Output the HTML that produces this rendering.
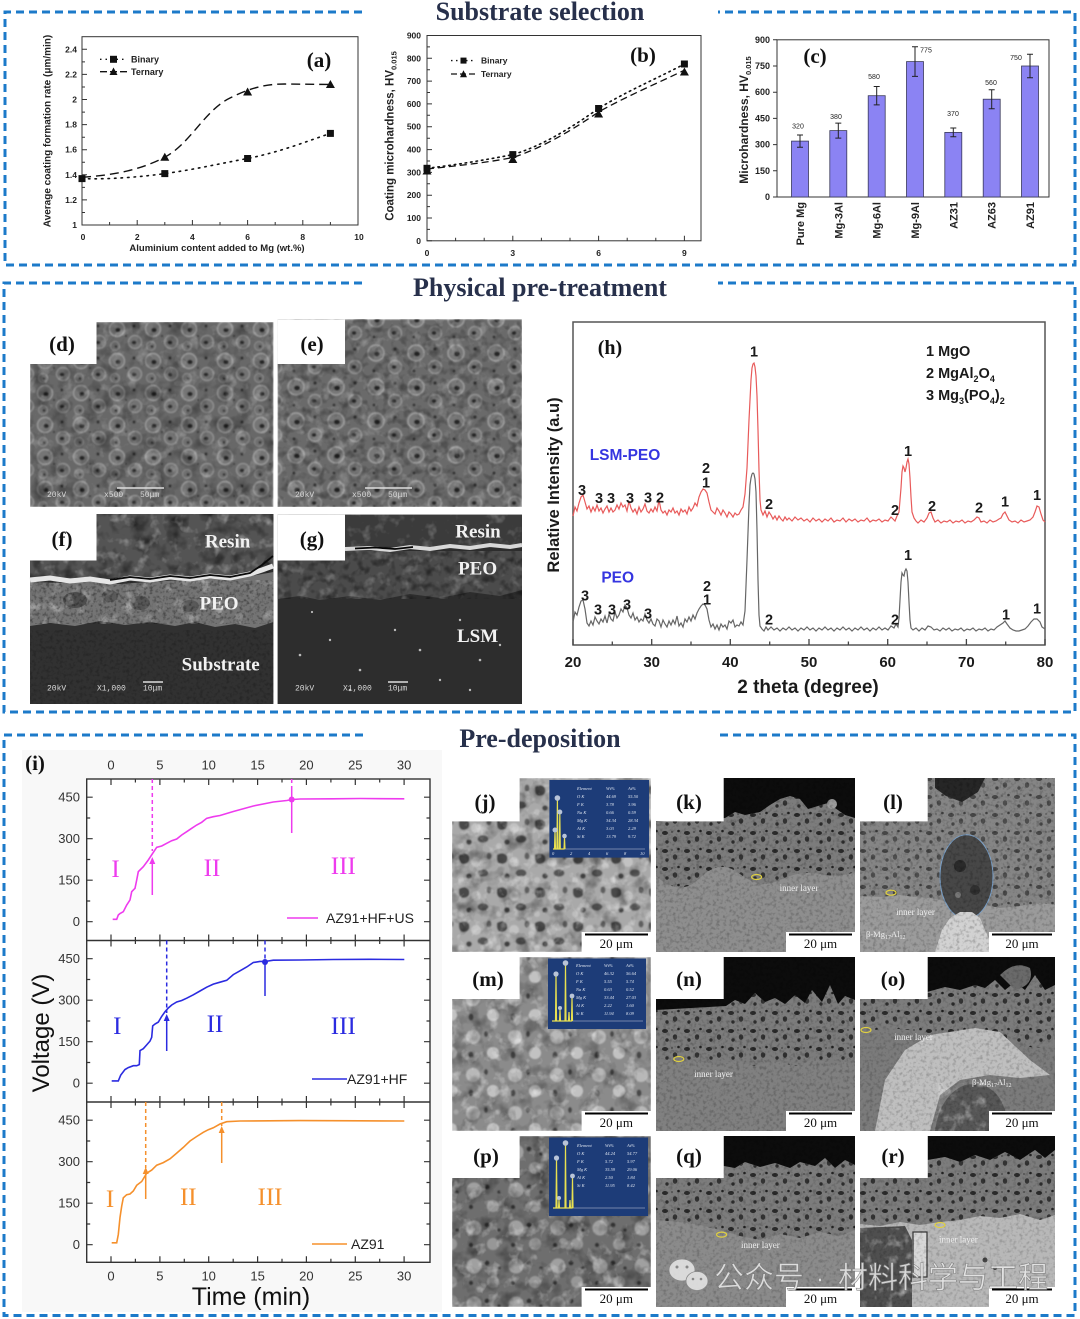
<!DOCTYPE html>
<html><head><meta charset="utf-8">
<style>
html,body{margin:0;padding:0;background:#fff;width:1080px;height:1319px;overflow:hidden}
svg{display:block}
.s{font-family:"Liberation Sans",Arial,sans-serif}
.r{font-family:"Liberation Serif","Times New Roman",serif}
.m{font-family:"Liberation Mono",monospace}
</style></head><body>
<svg xmlns="http://www.w3.org/2000/svg" width="1080" height="1319" viewBox="0 0 1080 1319">
<defs>
<filter id="nD" x="0" y="0" width="1" height="1" color-interpolation-filters="sRGB"><feTurbulence type="fractalNoise" baseFrequency="0.06" numOctaves="3" seed="4"/><feColorMatrix type="matrix" values="0 0 0 0 0 0 0 0 0 0 0 0 0 0 0 -2.4 0 0 0 1.3"/></filter>
<filter id="nD2" x="0" y="0" width="1" height="1" color-interpolation-filters="sRGB"><feTurbulence type="fractalNoise" baseFrequency="0.12" numOctaves="2" seed="11"/><feColorMatrix type="matrix" values="0 0 0 0 0 0 0 0 0 0 0 0 0 0 0 -2.6 0 0 0 1.4"/></filter>
<filter id="nL" x="0" y="0" width="1" height="1" color-interpolation-filters="sRGB"><feTurbulence type="fractalNoise" baseFrequency="0.08" numOctaves="3" seed="9"/><feColorMatrix type="matrix" values="0 0 0 0 1 0 0 0 0 1 0 0 0 0 1 2.4 0 0 0 -1.3"/></filter>
<filter id="nF" x="0" y="0" width="1" height="1" color-interpolation-filters="sRGB"><feTurbulence type="fractalNoise" baseFrequency="0.3" numOctaves="2" seed="2"/><feColorMatrix type="matrix" values="0 0 0 0 0 0 0 0 0 0 0 0 0 0 0 -3 0 0 0 1.6"/></filter>
<filter id="bl" x="0" y="0" width="1" height="1"><feGaussianBlur stdDeviation="0.9"/></filter>
<pattern id="pD" width="36" height="32" patternUnits="userSpaceOnUse">
<rect width="36" height="32" fill="#686868"/>
<circle cx="9" cy="9" r="7.5" fill="#757575" stroke="#9a9a9a" stroke-width="1.4"/>
<ellipse cx="10" cy="10" rx="2.7" ry="2.3" fill="#262626"/>
<circle cx="27" cy="22" r="6.5" fill="#727272" stroke="#939393" stroke-width="1.3"/>
<ellipse cx="26" cy="22.5" rx="2.3" ry="1.9" fill="#2a2a2a"/>
<circle cx="26" cy="6" r="1.6" fill="#333"/>
<circle cx="7" cy="26" r="4.5" fill="#707070" stroke="#8c8c8c"/>
<circle cx="8" cy="26.5" r="1.4" fill="#353535"/>
<circle cx="18" cy="16" r="1.1" fill="#3a3a3a"/>
</pattern>
<pattern id="pE" width="40" height="34" patternUnits="userSpaceOnUse" patternTransform="translate(5,3)">
<rect width="40" height="34" fill="#6b6b6b"/>
<circle cx="11" cy="10" r="8" fill="#777" stroke="#9e9e9e" stroke-width="1.4"/>
<ellipse cx="12" cy="11" rx="3" ry="2.5" fill="#262626"/>
<circle cx="30" cy="24" r="6.5" fill="#737373" stroke="#969696" stroke-width="1.3"/>
<ellipse cx="29" cy="24" rx="2.4" ry="2" fill="#2a2a2a"/>
<circle cx="30" cy="6" r="1.8" fill="#333"/>
<circle cx="9" cy="28" r="1.5" fill="#353535"/>
</pattern>
<pattern id="pC" width="22" height="18" patternUnits="userSpaceOnUse">
<rect width="22" height="18" fill="#7c7c7c"/>
<ellipse cx="5" cy="5" rx="3" ry="2" fill="#2a2a2a"/>
<ellipse cx="15" cy="11" rx="2.2" ry="2.8" fill="#333"/>
<circle cx="18.5" cy="3" r="1.3" fill="#222"/>
<circle cx="7" cy="14" r="1.7" fill="#2e2e2e"/>
<circle cx="12" cy="4" r="0.9" fill="#444"/>
</pattern>
<pattern id="pJ" width="38" height="34" patternUnits="userSpaceOnUse">
<rect width="38" height="34" fill="#a9a9a9"/>
<circle cx="20" cy="12" r="5" fill="#c2c2c2"/>
<path d="M3 5q6-4 10 1q2 7-5 8q-6 0-5-9z" fill="#4a4a4a"/>
<ellipse cx="27" cy="23" rx="5.5" ry="3.8" fill="#555"/>
<circle cx="13" cy="26" r="2.8" fill="#444"/>
<ellipse cx="33" cy="6" rx="2.5" ry="3.5" fill="#5e5e5e"/>
<circle cx="5" cy="30" r="3" fill="#bdbdbd"/>
</pattern>
<pattern id="pM" width="42" height="38" patternUnits="userSpaceOnUse">
<rect width="42" height="38" fill="#8b8b8b"/>
<circle cx="11" cy="11" r="7" fill="#b8b8b8"/>
<circle cx="31" cy="27" r="6" fill="#c2c2c2"/>
<ellipse cx="24" cy="8" rx="2" ry="3" fill="#474747"/>
<ellipse cx="9" cy="29" rx="2.5" ry="3.5" fill="#4a4a4a"/>
<circle cx="36" cy="10" r="2.5" fill="#a5a5a5"/>
</pattern>
<pattern id="pP" width="42" height="38" patternUnits="userSpaceOnUse">
<rect width="42" height="38" fill="#6e6e6e"/>
<circle cx="12" cy="12" r="7.5" fill="#a0a0a0"/>
<circle cx="31" cy="28" r="6" fill="#979797"/>
<circle cx="25" cy="9" r="2.5" fill="#303030"/>
<circle cx="9" cy="29" r="2.2" fill="#333"/>
<circle cx="37" cy="14" r="1.8" fill="#383838"/>
</pattern>
</defs>

<!-- ============ SECTION BORDERS & TITLES ============ -->
<g fill="none" stroke="#1c7ac9" stroke-width="3" stroke-dasharray="8 5">
<path d="M362 12H5V265H1075V12H718"/>
<path d="M362 283H4V712H1075V283H718"/>
<path d="M363 735H4V1315.5H1075V735H717"/>
</g>
<g class="r" font-size="26" font-weight="bold" fill="#27304b" text-anchor="middle">
<text x="540" y="20">Substrate selection</text>
<text x="540" y="296">Physical pre-treatment</text>
<text x="540" y="747">Pre-deposition</text>
</g>

<!-- ============ (a) ============ -->
<g class="s" font-weight="bold" fill="#222">
<rect x="82" y="36.7" width="276" height="188.3" fill="none" stroke="#333" stroke-width="1"/>
<path d="M82 225h5M82 199.9h5M82 174.8h5M82 149.7h5M82 124.6h5M82 99.5h5M82 74.4h5M82 49.3h5M82 212.5h3M82 187.4h3M82 162.3h3M82 137.2h3M82 112.1h3M82 87h3M82 61.9h3M82 225v-5M137.2 225v-5M192.4 225v-5M247.6 225v-5M302.8 225v-5M109.6 225v-3M164.8 225v-3M220 225v-3M275.2 225v-3M330.4 225v-3" stroke="#333" stroke-width="1"/>
<g font-size="8.5" text-anchor="end">
<text x="77" y="228">1</text><text x="77" y="202.9">1.2</text><text x="77" y="177.8">1.4</text><text x="77" y="152.7">1.6</text><text x="77" y="127.6">1.8</text><text x="77" y="102.5">2</text><text x="77" y="77.4">2.2</text><text x="77" y="52.3">2.4</text>
</g>
<g font-size="8.5" text-anchor="middle">
<text x="83" y="240">0</text><text x="137.2" y="240">2</text><text x="192.4" y="240">4</text><text x="247.6" y="240">6</text><text x="302.8" y="240">8</text><text x="359" y="240">10</text>
</g>
<text x="217" y="251" font-size="9.5" text-anchor="middle">Aluminium content added to Mg (wt.%)</text>
<text transform="translate(50.5,131) rotate(-90)" font-size="10" text-anchor="middle">Average coating formation rate (μm/min)</text>
<path d="M82,178.6 C110,179.5 140,177 164.8,173.6 C195,169.5 220,163.5 247.6,158.5 C280,152 305,142 330.4,133.4" fill="none" stroke="#111" stroke-width="1.6" stroke-dasharray="1.5 5" stroke-linecap="round"/>
<path d="M82,177.3 C115,175 140,170 164.8,157.2 C190,144 205,110 230,98 C250,88 265,84 285,84 L330.4,84.5" fill="none" stroke="#111" stroke-width="1.4" stroke-dasharray="9 5"/>
<g fill="#111">
<path d="M164.8 152.7l-4.5 8h9z M247.6 87.5l-4.5 8h9z M330.4 80l-4.5 8h9z"/>
<rect x="78.5" y="175.1" width="7" height="7"/><rect x="161.3" y="170.1" width="7" height="7"/><rect x="244.1" y="155" width="7" height="7"/><rect x="326.9" y="129.9" width="7" height="7"/>
<path d="M100 59.3H127" stroke="#111" stroke-width="1.4" stroke-dasharray="1.5 4"/>
<rect x="110" y="55.8" width="7" height="7"/>
<path d="M100 71.7H127" stroke="#111" stroke-width="1.3" stroke-dasharray="7 3"/>
<path d="M113.5 67.5l-4 7.5h8z"/>
</g>
<text x="131" y="62.5" font-size="9">Binary</text>
<text x="131" y="75" font-size="9">Ternary</text>
</g>
<text x="319" y="67" class="r" font-size="21" font-weight="bold" text-anchor="middle" fill="#111">(a)</text>

<!-- ============ (b) ============ -->
<g class="s" font-weight="bold" fill="#222">
<rect x="427" y="35.5" width="274" height="205.3" fill="none" stroke="#333" stroke-width="1"/>
<path d="M427 240.8h5M427 218h5M427 195.2h5M427 172.4h5M427 149.6h5M427 126.7h5M427 103.9h5M427 81.1h5M427 58.3h5M427 229.4h3M427 206.6h3M427 183.8h3M427 161h3M427 138.2h3M427 115.3h3M427 92.5h3M427 69.7h3M427 46.9h3M512.8 240.8v-5M598.6 240.8v-5M684.4 240.8v-5M455.6 240.8v-3M484.2 240.8v-3M541.4 240.8v-3M570 240.8v-3M627.2 240.8v-3M655.8 240.8v-3" stroke="#333" stroke-width="1"/>
<g font-size="8.5" text-anchor="end">
<text x="421" y="243.8">0</text><text x="421" y="221">100</text><text x="421" y="198.2">200</text><text x="421" y="175.4">300</text><text x="421" y="152.6">400</text><text x="421" y="129.7">500</text><text x="421" y="106.9">600</text><text x="421" y="84.1">700</text><text x="421" y="61.3">800</text><text x="421" y="38.5">900</text>
</g>
<g font-size="8.5" text-anchor="middle">
<text x="427" y="256">0</text><text x="512.8" y="256">3</text><text x="598.6" y="256">6</text><text x="684.4" y="256">9</text>
</g>
<text transform="translate(393.5,136) rotate(-90)" font-size="11.5" text-anchor="middle">Coating microhardness, HV<tspan font-size="7.5" dy="3">0.015</tspan></text>
<path d="M427,168.3 C455,165 485,160 512.8,154.6 C545,145 575,125 598.6,108.5 C625,92 660,77 684.4,64" fill="none" stroke="#111" stroke-width="1.6" stroke-dasharray="1.5 4" stroke-linecap="round"/>
<path d="M427,169 C455,166 485,163 512.8,157.5 C545,147 575,128 598.6,112 C625,97 660,82 684.4,70.2" fill="none" stroke="#111" stroke-width="1.3" stroke-dasharray="7 4"/>
<g fill="#111">
<path d="M512.8 155l-4.5 8h9z M598.6 109.5l-4.5 8h9z M684.4 67.5l-4.5 8h9z M427 166.5l-4.5 8h9z"/>
<rect x="423.5" y="164.8" width="7" height="7"/><rect x="509.3" y="151.1" width="7" height="7"/><rect x="595.1" y="105" width="7" height="7"/><rect x="680.9" y="60.5" width="7" height="7"/>
<path d="M451 60.6H476" stroke="#111" stroke-width="1.4" stroke-dasharray="1.5 3.5"/>
<rect x="460.5" y="57.6" width="6" height="6"/>
<path d="M451 74H476" stroke="#111" stroke-width="1.2" stroke-dasharray="6 3"/>
<path d="M463.5 70.3l-3.5 7h7z"/>
</g>
<text x="481" y="63.5" font-size="8.5">Binary</text>
<text x="481" y="77" font-size="8.5">Ternary</text>
</g>
<text x="643" y="62" class="r" font-size="21" font-weight="bold" text-anchor="middle" fill="#111">(b)</text>

<!-- ============ (c) ============ -->
<g class="s" fill="#222">
<rect x="777" y="39.8" width="272" height="157.2" fill="none" stroke="#333" stroke-width="1"/>
<path d="M777 197h-4M777 170.8h-4M777 144.6h-4M777 118.4h-4M777 92.2h-4M777 66h-4M777 39.8h-4" stroke="#333" stroke-width="1"/>
<g font-size="9" font-weight="bold" text-anchor="end">
<text x="770" y="200">0</text><text x="770" y="173.8">150</text><text x="770" y="147.6">300</text><text x="770" y="121.4">450</text><text x="770" y="95.2">600</text><text x="770" y="69">750</text><text x="770" y="42.8">900</text>
</g>
<g fill="#8b83f3" stroke="#3a3a5a" stroke-width="0.8">
<rect x="791.5" y="141.1" width="17" height="55.9"/>
<rect x="829.8" y="130.6" width="17" height="66.4"/>
<rect x="868.2" y="95.7" width="17" height="101.3"/>
<rect x="906.5" y="61.6" width="17" height="135.4"/>
<rect x="944.8" y="132.4" width="17" height="64.6"/>
<rect x="983.2" y="99.2" width="17" height="97.8"/>
<rect x="1021.5" y="66" width="17" height="131"/>
</g>
<path d="M800 135v12.2M797 135h6M797 147.2h6 M838.3 123.1v15M835.3 123.1h6M835.3 138.1h6 M876.7 86.5v18.4M873.7 86.5h6M873.7 104.9h6 M915 46.8v29.6M912 46.8h6M912 76.4h6 M953.3 128v8.8M950.3 128h6M950.3 136.8h6 M991.7 89.7v19M988.7 89.7h6M988.7 108.7h6 M1030 54.3v23.4M1027 54.3h6M1027 77.7h6" stroke="#222" stroke-width="1"/>
<g font-size="7" text-anchor="middle">
<text x="798" y="128.5">320</text><text x="836" y="119">380</text><text x="874" y="79">580</text><text x="926" y="52.5">775</text><text x="953" y="116">370</text><text x="991" y="85">560</text><text x="1016" y="60">750</text>
</g>
<g font-size="11" font-weight="bold" text-anchor="end">
<text transform="translate(804,202) rotate(-90)">Pure Mg</text>
<text transform="translate(842.3,202) rotate(-90)">Mg-3Al</text>
<text transform="translate(880.7,202) rotate(-90)">Mg-6Al</text>
<text transform="translate(919,202) rotate(-90)">Mg-9Al</text>
<text transform="translate(957.3,202) rotate(-90)">AZ31</text>
<text transform="translate(995.7,202) rotate(-90)">AZ63</text>
<text transform="translate(1034,202) rotate(-90)">AZ91</text>
</g>
<text transform="translate(748,120) rotate(-90)" font-size="12" font-weight="bold" text-anchor="middle">Microhardness, HV<tspan font-size="7.5" dy="3">0.015</tspan></text>
</g>
<text x="815" y="63" class="r" font-size="21" font-weight="bold" text-anchor="middle" fill="#111">(c)</text>

<!-- ============ (d) ============ -->
<rect x="30" y="322" width="243.4" height="185" fill="url(#pD)" filter="url(#bl)"/>
<rect x="30" y="322" width="243.4" height="185" filter="url(#nD)" opacity="0.35"/>
<rect x="30" y="322" width="243.4" height="185" filter="url(#nL)" opacity="0.3"/>
<rect x="30" y="322" width="66.5" height="42" fill="#fff"/>
<g class="m" font-size="8" fill="#d8d8d8">
<text x="47" y="497">20kV</text><text x="104" y="497">x500</text><text x="140" y="497">50μm</text>
</g>
<path d="M117 488H164" stroke="#ddd" stroke-width="1.5"/>

<!-- ============ (e) ============ -->
<rect x="277.6" y="319.4" width="244.4" height="187.6" fill="url(#pE)" filter="url(#bl)"/>
<rect x="277.6" y="319.4" width="244.4" height="187.6" filter="url(#nD2)" opacity="0.3"/>
<rect x="277.6" y="319.4" width="244.4" height="187.6" filter="url(#nL)" opacity="0.3"/>
<rect x="277.6" y="319.4" width="67.4" height="44.6" fill="#fff"/>
<g class="m" font-size="8" fill="#d8d8d8">
<text x="295" y="497">20kV</text><text x="352" y="497">x500</text><text x="388" y="497">50μm</text>
</g>
<path d="M365 488H412" stroke="#ddd" stroke-width="1.5"/>

<!-- ============ (f) ============ -->
<rect x="30" y="514" width="243.4" height="190" fill="#313131"/>
<path d="M30,514 H273.4 V566 L265,560 L255,572 L240,574 L220,576 L200,575 L180,577 L160,576 L140,578 L120,577 L100,579 L80,578 L60,580 L40,577 L30,578 Z" fill="#545454"/>
<rect x="30" y="514" width="243.4" height="64" filter="url(#nD)" opacity="0.6"/>
<rect x="30" y="514" width="243.4" height="64" filter="url(#nL)" opacity="0.45"/>
<path d="M30,582 L60,583 L90,581 L120,584 L150,582 L180,580 L210,579 L240,578 L273.4,572 V622 L255,628 L235,624 L215,627 L195,622 L175,626 L150,622 L125,625 L100,621 L75,626 L50,623 L30,626 Z" fill="#747474"/>
<ellipse cx="75" cy="600" rx="12" ry="8" fill="#4e4e4e"/><ellipse cx="140" cy="603" rx="10" ry="7" fill="#555"/><ellipse cx="110" cy="596" rx="8" ry="6" fill="#5a5a5a"/><ellipse cx="190" cy="606" rx="9" ry="6" fill="#5a5a5a"/>
<rect x="30" y="580" width="243.4" height="44" filter="url(#nL)" opacity="0.45"/>
<rect x="30" y="580" width="243.4" height="44" filter="url(#nF)" opacity="0.35"/>
<path d="M30,580 L50,578 L70,581 L90,579 L110,582 L130,578 L150,580 L170,577 L190,579 L210,576 L230,578 L250,574 L262,570 L273,566" stroke="#e6e6e6" stroke-width="5" fill="none"/>
<path d="M110,580 L130,577 L150,579 L170,576 L190,578 L210,575 L230,577 L250,573 L262,565 L273,556" stroke="#0a0a0a" stroke-width="1.8" fill="none"/>
<rect x="30" y="630" width="243.4" height="74" filter="url(#nF)" opacity="0.2"/>
<rect x="30" y="514" width="66.5" height="46.5" fill="#fff"/>
<g class="r" font-size="19" font-weight="bold" fill="#f2f2f2" text-anchor="middle">
<text x="227.6" y="547.5">Resin</text><text x="219" y="609.5">PEO</text><text x="220.7" y="670.5">Substrate</text>
</g>
<g class="m" font-size="8" fill="#d8d8d8">
<text x="47" y="690.5">20kV</text><text x="97" y="690.5">X1,000</text><text x="143" y="690.5">10μm</text>
</g>
<path d="M143 682H163" stroke="#ddd" stroke-width="1.5"/>

<!-- ============ (g) ============ -->
<rect x="277.6" y="514.7" width="244.4" height="189.3" fill="#2d2d2d"/>
<rect x="277.6" y="514.7" width="244.4" height="32" fill="#3b3b3b"/>
<rect x="277.6" y="514.7" width="244.4" height="32" filter="url(#nL)" opacity="0.3"/>
<path d="M277.6,551 H522 V590 L500,596 L470,592 L440,598 L410,594 L380,600 L350,596 L320,600 L300,596 L277.6,599 Z" fill="#4b4b4b"/>
<rect x="277.6" y="551" width="244.4" height="48" filter="url(#nD2)" opacity="0.45"/>
<rect x="277.6" y="551" width="244.4" height="48" filter="url(#nL)" opacity="0.3"/>
<path d="M345,549 L370,548 L390,550 L410,547 L430,549 L450,546 L470,548 L490,545 L510,547 L522,545" stroke="#d8d8d8" stroke-width="4" fill="none"/>
<path d="M355,548.5 L375,547.5 L395,549 L413,547" stroke="#050505" stroke-width="1.8" fill="none"/>
<g fill="#bbb"><circle cx="300" cy="655" r="1.3"/><circle cx="330" cy="640" r="1.2"/><circle cx="360" cy="670" r="1.3"/><circle cx="395" cy="630" r="1.2"/><circle cx="420" cy="650" r="1.3"/><circle cx="440" cy="680" r="1.2"/><circle cx="460" cy="620" r="1.2"/><circle cx="480" cy="660" r="1.3"/><circle cx="500" cy="645" r="1.2"/><circle cx="350" cy="690" r="1.2"/><circle cx="470" cy="690" r="1.2"/><circle cx="312" cy="612" r="1.1"/></g>
<rect x="277.6" y="514.7" width="67.4" height="45.8" fill="#fff"/>
<g class="r" font-size="19" font-weight="bold" fill="#f2f2f2" text-anchor="middle">
<text x="478" y="537.5">Resin</text><text x="477.6" y="574.5">PEO</text><text x="477.6" y="642">LSM</text>
</g>
<g class="m" font-size="8" fill="#d8d8d8">
<text x="295" y="690.5">20kV</text><text x="343" y="690.5">X1,000</text><text x="388" y="690.5">10μm</text>
</g>
<path d="M388 682H408" stroke="#ddd" stroke-width="1.5"/>

<g class="r" font-size="21" font-weight="bold" fill="#111" text-anchor="middle">
<text x="62" y="351">(d)</text><text x="312" y="351">(e)</text><text x="62" y="546">(f)</text><text x="312" y="546">(g)</text>
</g>

<!-- ============ (h) XRD ============ -->
<rect x="573" y="322" width="472" height="323" fill="none" stroke="#555" stroke-width="1.5"/>
<path d="M573 645v-6M651.7 645v-6M730.3 645v-6M809 645v-6M887.7 645v-6M966.4 645v-6M1045 645v-6M612.3 645v-3.5M691 645v-3.5M769.7 645v-3.5M848.4 645v-3.5M927 645v-3.5M1005.7 645v-3.5" stroke="#444" stroke-width="1.3"/>
<polyline fill="none" stroke="#e85a5a" stroke-width="1.2" points="573,516 575,507 577,511 579,503 581,497 583,495 585,502 587,509 589,506 591,512 593,507 595,511 597,505 599,511 601,508 603,513 605,509 607,506 609,512 611,508 613,512 615,510 617,505 619,509 621,503 623,507 625,505 627,511 629,501 631,508 633,512 635,509 637,514 639,507 641,512 643,509 645,504 647,511 649,513 651,509 653,512 655,507 657,511 659,500 661,510 663,513 665,511 667,515 669,510 671,512 673,508 675,513 677,511 679,515 681,509 683,512 685,510 687,514 689,507 691,511 693,508 695,503 697,506 699,497 701,492 703,489 705,490 707,493 709,502 711,510 713,512 715,514 717,508 719,511 721,515 723,510 725,513 727,517 729,512 731,514 733,517 735,513 737,515 739,514 741,510 743,507 745,494 747,468 749,420 751,380 752,368 753,364 754,363 755,367 756,376 757,396 758,430 759,470 760,500 761,510 763,515 765,511 767,517 769,512 771,515 773,519 775,516 777,520 779,516 781,519 783,521 785,517 787,520 789,518 792,521 795,517 798,520 801,518 804,521 807,519 810,522 813,518 816,521 819,519 822,522 825,519 828,521 831,518 834,522 837,520 840,521 843,518 846,522 849,519 852,521 855,519 858,522 861,520 864,521 867,518 870,522 873,520 876,521 879,519 882,522 885,520 888,521 891,517 893,519 895,521 897,516 899,512 900,500 901,488 902,472 903,466 904,468 905,472 906,468 907,462 908,459 909,464 910,478 911,497 912,512 914,518 916,521 918,523 921,520 924,522 927,518 929,513 931,512 933,518 935,522 938,520 941,523 944,521 947,522 950,520 953,523 956,521 959,522 962,520 965,523 968,521 971,522 974,520 977,517 979,518 981,522 984,521 987,523 990,520 993,522 996,521 999,519 1001,518 1003,514 1005,512 1007,516 1009,520 1012,522 1015,521 1018,523 1021,520 1024,522 1027,521 1030,520 1033,517 1035,512 1037,506 1039,507 1041,514 1043,520 1045,522"/>
<polyline fill="none" stroke="#666" stroke-width="1.2" points="573,622 575,612 577,615 579,607 581,601 583,600 585,609 587,623 589,626 591,621 593,625 595,617 597,621 599,624 601,619 603,622 605,616 607,623 609,614 611,619 613,621 615,612 617,618 619,615 621,609 623,612 625,605 627,608 629,615 631,618 633,613 635,620 637,617 639,622 641,619 643,621 645,614 647,620 649,623 651,619 653,624 655,626 657,619 659,621 661,627 663,620 665,624 667,627 669,621 671,625 673,620 675,624 677,616 679,626 681,623 683,627 685,619 687,622 689,617 691,621 693,615 695,619 697,613 699,609 701,606 703,604 705,605 707,609 709,620 711,627 713,624 715,629 717,625 719,630 721,624 723,627 725,625 727,629 729,621 731,623 733,620 735,627 737,625 739,626 741,622 743,625 745,611 747,560 749,505 750,485 751,478 752,474 753,473 754,474 755,479 756,492 757,530 758,580 759,615 760,626 762,629 764,631 766,627 768,630 771,627 774,630 777,628 780,631 783,628 786,630 789,627 792,630 795,628 798,631 801,628 804,630 807,627 810,630 813,628 816,631 819,628 822,630 825,627 828,630 831,628 834,631 837,628 840,630 843,627 846,630 849,628 852,631 855,628 858,630 861,627 864,630 867,628 870,631 873,628 876,630 879,627 882,630 885,628 888,630 891,626 894,628 896,624 898,627 899,618 900,600 901,582 902,573 903,575 904,576 905,571 906,569 907,571 908,582 909,602 910,620 911,628 913,630 916,628 919,631 922,628 925,630 928,626 931,627 934,630 937,629 940,631 943,628 946,630 949,628 952,631 955,629 958,630 961,628 964,631 967,629 970,630 973,628 976,631 979,629 982,630 985,628 988,631 991,629 994,630 997,627 1000,625 1003,623 1005,621 1007,624 1010,628 1013,630 1016,631 1019,631 1022,630 1025,629 1028,626 1031,622 1034,619 1037,619 1040,622 1042,627 1045,629"/>
<g class="s" font-size="14.5" font-weight="bold" fill="#1a1a1a" text-anchor="middle">
<text x="582" y="495">3</text><text x="599" y="503">3</text><text x="611" y="503">3</text><text x="630" y="503">3</text><text x="648" y="502.5">3</text><text x="660" y="502.5">2</text><text x="706" y="473">2</text><text x="706" y="487.5">1</text><text x="754" y="356.5">1</text><text x="769" y="509">2</text><text x="895" y="515">2</text><text x="908" y="456">1</text><text x="932" y="511">2</text><text x="979" y="512.5">2</text><text x="1005" y="506.5">1</text><text x="1037" y="500">1</text>
<text x="585" y="600.5">3</text><text x="598" y="614.5">3</text><text x="612" y="614.5">3</text><text x="627" y="609.5">3</text><text x="648" y="618.5">3</text><text x="707" y="591">2</text><text x="707" y="604.5">1</text><text x="769" y="624.5">2</text><text x="895" y="624.5">2</text><text x="908" y="560">1</text><text x="1006" y="619.5">1</text><text x="1037" y="613.5">1</text>
</g>
<g class="s" font-size="14.5" font-weight="bold" fill="#1a1a1a">
<text x="926" y="356">1 MgO</text>
<text x="926" y="378">2 MgAl<tspan font-size="9" dy="4">2</tspan><tspan dy="-4">O</tspan><tspan font-size="9" dy="4">4</tspan></text>
<text x="926" y="400">3 Mg<tspan font-size="9" dy="4">3</tspan><tspan dy="-4">(PO</tspan><tspan font-size="9" dy="4">4</tspan><tspan dy="-4">)</tspan><tspan font-size="9" dy="4">2</tspan></text>
</g>
<g class="s" font-size="15.5" font-weight="bold" fill="#3535e0" text-anchor="middle">
<text x="625" y="460">LSM-PEO</text><text x="617.7" y="582.5">PEO</text>
</g>
<g class="s" font-size="15" font-weight="bold" fill="#1a1a1a" text-anchor="middle">
<text x="573" y="667">20</text><text x="651.7" y="667">30</text><text x="730.3" y="667">40</text><text x="809" y="667">50</text><text x="887.7" y="667">60</text><text x="966.4" y="667">70</text><text x="1045" y="667">80</text>
</g>
<text x="808" y="693" class="s" font-size="19" font-weight="bold" text-anchor="middle" fill="#1a1a1a">2 theta (degree)</text>
<text transform="translate(559,485) rotate(-90)" class="s" font-size="16.5" font-weight="bold" text-anchor="middle" fill="#1a1a1a">Relative Intensity (a.u)</text>
<text x="610" y="354" class="r" font-size="20" font-weight="bold" text-anchor="middle" fill="#111">(h)</text>

<!-- ============ (i) ============ -->
<rect x="22" y="750" width="420" height="562" fill="#f8f8f8"/>
<rect x="86.7" y="779" width="343.3" height="483.3" fill="#fff" stroke="#333" stroke-width="1.4"/>
<path d="M86.7 940.5H430M86.7 1102H430" stroke="#333" stroke-width="1.4"/>
<path stroke="#333" stroke-width="1.2" d="M86.7 921.7h6M86.7 880.2h6M86.7 838.7h6M86.7 797.2h6M86.7 1083.2h6M86.7 1041.7h6M86.7 1000.2h6M86.7 958.7h6M86.7 1244.7h6M86.7 1203.2h6M86.7 1161.7h6M86.7 1120.2h6
M430 921.7h-6M430 880.2h-6M430 838.7h-6M430 797.2h-6M430 1083.2h-6M430 1041.7h-6M430 1000.2h-6M430 958.7h-6M430 1244.7h-6M430 1203.2h-6M430 1161.7h-6M430 1120.2h-6
M86.7 901h3.5M86.7 859.5h3.5M86.7 818h3.5M86.7 1062.5h3.5M86.7 1021h3.5M86.7 979.5h3.5M86.7 1224h3.5M86.7 1182.5h3.5M86.7 1141h3.5
M430 901h-3.5M430 859.5h-3.5M430 818h-3.5M430 1062.5h-3.5M430 1021h-3.5M430 979.5h-3.5M430 1224h-3.5M430 1182.5h-3.5M430 1141h-3.5
M111 779v6M159.9 779v6M208.7 779v6M257.6 779v6M306.4 779v6M355.3 779v6M404.1 779v6M135.4 779v3.5M184.3 779v3.5M233.2 779v3.5M282 779v3.5M330.9 779v3.5M379.7 779v3.5
M111 934.5v12M159.9 934.5v12M208.7 934.5v12M257.6 934.5v12M306.4 934.5v12M355.3 934.5v12M404.1 934.5v12M135.4 937v7M184.3 937v7M233.2 937v7M282 937v7M330.9 937v7M379.7 937v7
M111 1096v12M159.9 1096v12M208.7 1096v12M257.6 1096v12M306.4 1096v12M355.3 1096v12M404.1 1096v12M135.4 1098.5v7M184.3 1098.5v7M233.2 1098.5v7M282 1098.5v7M330.9 1098.5v7M379.7 1098.5v7
M111 1262.3v-6M159.9 1262.3v-6M208.7 1262.3v-6M257.6 1262.3v-6M306.4 1262.3v-6M355.3 1262.3v-6M404.1 1262.3v-6M135.4 1262.3v-3.5M184.3 1262.3v-3.5M233.2 1262.3v-3.5M282 1262.3v-3.5M330.9 1262.3v-3.5M379.7 1262.3v-3.5"/>
<g class="s" font-size="13" fill="#333" text-anchor="end">
<text x="80" y="926.2">0</text><text x="80" y="884.7">150</text><text x="80" y="843.2">300</text><text x="80" y="801.7">450</text>
<text x="80" y="1087.7">0</text><text x="80" y="1046.2">150</text><text x="80" y="1004.7">300</text><text x="80" y="963.2">450</text>
<text x="80" y="1249.2">0</text><text x="80" y="1207.7">150</text><text x="80" y="1166.2">300</text><text x="80" y="1124.7">450</text>
</g>
<g class="s" font-size="13" fill="#333" text-anchor="middle">
<text x="111" y="769.5">0</text><text x="159.9" y="769.5">5</text><text x="208.7" y="769.5">10</text><text x="257.6" y="769.5">15</text><text x="306.4" y="769.5">20</text><text x="355.3" y="769.5">25</text><text x="404.1" y="769.5">30</text>
<text x="111" y="1280.5">0</text><text x="159.9" y="1280.5">5</text><text x="208.7" y="1280.5">10</text><text x="257.6" y="1280.5">15</text><text x="306.4" y="1280.5">20</text><text x="355.3" y="1280.5">25</text><text x="404.1" y="1280.5">30</text>
</g>
<text x="251" y="1305" class="s" font-size="25" text-anchor="middle" fill="#111">Time (min)</text>
<text transform="translate(49,1033) rotate(-90)" class="s" font-size="24" text-anchor="middle" fill="#111">Voltage (V)</text>
<text x="35" y="770" class="r" font-size="21" font-weight="bold" text-anchor="middle" fill="#111">(i)</text>

<!-- magenta -->
<g stroke="#ee3bee" fill="none" stroke-width="1.6">
<polyline points="112.7,919.3 116.7,919.3 118.3,915 120,913.5 123.3,911.7 126.7,905 130,900 131.7,891.7 135,888.3 136.7,880 138.3,871.7 143.3,866.7 148.3,860 152.7,853.3 156.7,847.3 161.7,846 166.7,843.3 171.7,840.7 176.7,839 181.7,835 186.7,831.7 191.7,828.3 196.7,825 201.7,822.3 206.7,818.3 213.3,816.7 220,815.5 233.3,811.5 253.3,806 273.3,802 286.7,800.5 292.7,799.5 300,799 333,798.8 360,798.5 404.3,798.8"/>
<path d="M152.3 779V851M291.7 779V790" stroke-dasharray="4 3" stroke-width="1.5"/>
<path d="M152.3 895V862M291.7 790V833" stroke-width="1.5"/>
</g>
<path d="M152.3 857l-3 7h6z" fill="#ee3bee"/><circle cx="291.7" cy="799.5" r="3" fill="#ee3bee"/>
<g class="r" font-size="25" fill="#ee3bee" text-anchor="middle"><text x="115.5" y="877">I</text><text x="212" y="876">II</text><text x="343.3" y="874">III</text></g>
<text x="326" y="923" class="s" font-size="14" fill="#222">AZ91+HF+US</text>
<path d="M287 918H318" stroke="#ee3bee" stroke-width="1.6"/>

<!-- blue -->
<g stroke="#2b2be0" fill="none" stroke-width="1.6">
<polyline points="111.7,1080.9 118.3,1080.9 120.7,1075.2 125,1069.5 128.3,1067.6 133.3,1065.7 136.7,1065.7 139.3,1064.6 140,1050.6 143.3,1048.7 146.7,1044.9 150,1041.1 151.7,1037.3 152.7,1025.9 155,1024 158.3,1022.1 161.7,1016.4 165,1011.8 168.3,1008 171.7,1005 176.7,1002 181.7,1000.5 186.7,998.2 193.3,994.8 200,991 206.7,987.2 213.3,984.1 220,982.2 226.7,980.3 233.3,974.6 240,970.8 246.7,967 253.3,962.5 260,961.4 265,961.5 273.3,960.2 300,960 333.3,959.5 370,959.3 404.3,959.5"/>
<path d="M166.7 940.5V1013M265 940.5V960" stroke-dasharray="4 3" stroke-width="1.5"/>
<path d="M166.7 1051V1020M265 960V996" stroke-width="1.5"/>
<path d="M312 1079H347"/>
</g>
<path d="M166.7 1014l-3 7h6z" fill="#2b2be0"/><circle cx="265" cy="962" r="3" fill="#2b2be0"/>
<g class="r" font-size="25" fill="#2b2be0" text-anchor="middle"><text x="117.3" y="1034">I</text><text x="215" y="1032">II</text><text x="343.3" y="1034">III</text></g>
<text x="347" y="1084" class="s" font-size="14" fill="#222">AZ91+HF</text>

<!-- orange -->
<g stroke="#f5902c" fill="none" stroke-width="1.6">
<polyline points="111.7,1242.8 116.7,1242.8 118.3,1234.5 120,1217.5 121.7,1206.1 123.3,1197.8 126.7,1194.7 130,1194 133.3,1191 136.7,1185.3 141.7,1181.5 146.7,1173.2 151.7,1170.1 156.7,1165.2 163.3,1162.6 170,1158.8 176.7,1153.1 183.3,1147.4 190,1141 196.7,1136.5 203.3,1132.3 208.3,1129.7 213.3,1127.8 220,1124 226.7,1121.7 240,1121 300,1120.6 360,1120.8 404.3,1121"/>
<path d="M145.7 1102V1168M221.7 1102V1126" stroke-dasharray="4 3" stroke-width="1.5"/>
<path d="M145.7 1174V1199M221.7 1163V1132" stroke-width="1.5"/>
<path d="M312 1244H347"/>
</g>
<path d="M145.7 1167l-3 7h6z M221.7 1126l-3 7h6z" fill="#f5902c"/>
<g class="r" font-size="25" fill="#f5902c" text-anchor="middle"><text x="110" y="1207">I</text><text x="188.3" y="1205">II</text><text x="270" y="1205">III</text></g>
<text x="351" y="1249" class="s" font-size="14" fill="#222">AZ91</text>

<!-- ============ (j) ============ -->
<rect x="452" y="778" width="199" height="174" fill="url(#pJ)" filter="url(#bl)"/>
<rect x="452" y="778" width="199" height="174" filter="url(#nD)" opacity="0.4"/>
<rect x="452" y="778" width="199" height="174" filter="url(#nL)" opacity="0.5"/>
<rect x="452" y="778" width="67.6" height="43.4" fill="#fff"/>
<rect x="549.4" y="780" width="99.6" height="77.6" fill="#1d3c78"/>
<path d="M553 849H645" stroke="#ccd" stroke-width="0.5"/>
<path d="M553,849 L554.5,849 L555,832 L555.5,849 L556.9,849 L557.4,800 L557.9,849 L559.3,849 L559.8,814 L560.3,849 L564,849 L564.5,838 L565,849" stroke="#e8e050" stroke-width="1.2" fill="none"/>
<g fill="#b8c4d8"><circle cx="555" cy="830" r="2.5"/><circle cx="557.4" cy="798" r="2.8"/><circle cx="559.8" cy="812" r="2.5"/><circle cx="564.5" cy="836" r="2.3"/></g>
<g class="r" font-size="4.5" font-style="italic" fill="#dde4f0">
<text x="577" y="790">Element</text><text x="606" y="790">Wt%</text><text x="628" y="790">At%</text>
<text x="577" y="798">O K</text><text x="606" y="798">44.69</text><text x="628" y="798">55.50</text>
<text x="577" y="806">F K</text><text x="606" y="806">3.78</text><text x="628" y="806">3.96</text>
<text x="577" y="814">Na K</text><text x="606" y="814">0.66</text><text x="628" y="814">0.59</text>
<text x="577" y="822">Mg K</text><text x="606" y="822">34.34</text><text x="628" y="822">28.34</text>
<text x="577" y="830">Al K</text><text x="606" y="830">3.03</text><text x="628" y="830">2.29</text>
<text x="577" y="838">Si K</text><text x="606" y="838">13.79</text><text x="628" y="838">9.72</text>
<text x="552" y="855">0</text><text x="570" y="855">2</text><text x="588" y="855">4</text><text x="606" y="855">6</text><text x="624" y="855">8</text><text x="640" y="855">10</text>
</g>

<!-- ============ (k) ============ -->
<rect x="656" y="778" width="199" height="174" fill="#8e8e8e"/>
<path d="M656,822 L725,818 L735,812 L745,815 L760,812 L770,805 L780,799 L790,796 L800,799 L808,809 L818,806 L828,803 L835,808 L845,815 L855,818 V872 Q840,878 820,874 T780,880 T740,874 T700,878 T656,876 Z" fill="url(#pC)"/>
<path d="M656,778 H855 V818 L845,815 L835,808 L828,803 L818,806 L808,809 L800,799 L790,796 L780,799 L770,805 L760,812 L745,815 L735,812 L725,818 L656,822 Z" fill="#0c0c0c"/>
<circle cx="832" cy="804" r="5" fill="#9a9a9a"/>
<rect x="656" y="778" width="199" height="174" filter="url(#nF)" opacity="0.2"/>
<ellipse cx="756.6" cy="877" rx="5" ry="2.5" fill="none" stroke="#e0d040" stroke-width="1.2"/>
<text x="799" y="891" class="r" font-size="9" fill="#eee" text-anchor="middle">inner layer</text>
<rect x="656" y="778" width="67.7" height="43.4" fill="#fff"/>

<!-- ============ (l) ============ -->
<rect x="860" y="778" width="195" height="174" fill="#9b9b9b"/>
<path d="M860,778 H1055 V905 L1040,903 L1020,906 L1000,908 L985,905 L975,900 L960,899 L945,901 L930,898 L915,897 L900,895 L880,897 L860,896 Z" fill="url(#pC)"/>
<path d="M860,778 H1055 V905 L1040,903 L1020,906 L1000,908 L985,905 L975,900 L960,899 L945,901 L930,898 L915,897 L900,895 L880,897 L860,896 Z" fill="#a0a0a0" opacity="0.25"/>
<path d="M935,778 H985 L978,792 L962,802 L946,796 L935,788Z" fill="#262626"/>
<ellipse cx="966.5" cy="876.7" rx="26.5" ry="42" fill="#474747" stroke="#7aa0c8" stroke-width="1"/>
<circle cx="960" cy="866" r="6" fill="#2a2a2a"/><circle cx="975" cy="890" r="5" fill="#303030"/><circle cx="958" cy="895" r="3" fill="#777"/>
<path d="M935,952 L942,930 L950,918 L960,912 L972,912 L980,918 L985,930 L992,945 L1000,952 Z" fill="#d2d2d2"/>
<rect x="860" y="778" width="195" height="174" filter="url(#nF)" opacity="0.2"/>
<ellipse cx="891" cy="892.7" rx="5" ry="2.5" fill="none" stroke="#e0d040" stroke-width="1.2"/>
<text x="915.5" y="915" class="r" font-size="9" fill="#eee" text-anchor="middle">inner layer</text>
<text x="866" y="937" class="r" font-size="8.5" fill="#eee">β-Mg<tspan font-size="6" dy="2">17</tspan><tspan dy="-2">Al</tspan><tspan font-size="6" dy="2">12</tspan></text>
<rect x="860" y="778" width="67.7" height="43.4" fill="#fff"/>

<!-- ============ (m) ============ -->
<rect x="452" y="957" width="199" height="174" fill="url(#pM)" filter="url(#bl)"/>
<rect x="452" y="957" width="199" height="174" filter="url(#nD)" opacity="0.35"/>
<rect x="452" y="957" width="199" height="174" filter="url(#nL)" opacity="0.55"/>
<rect x="452" y="957" width="67.6" height="42" fill="#fff"/>
<rect x="548" y="958.5" width="98" height="70.5" fill="#1d3c78"/>
<path d="M552 1021H643" stroke="#ccd" stroke-width="0.5"/>
<path d="M552,1021 L555.5,1021 L556,976 L556.5,1021 L559.5,1021 L560,1010 L560.5,1021 L565,1021 L565.5,965 L566,1021 L568.5,1021 L569,1012 L569.5,1021 L571.5,1021 L572,998 L572.5,1021" stroke="#e8e050" stroke-width="1.2" fill="none"/>
<g fill="#b8c4d8"><circle cx="556" cy="974" r="2.6"/><circle cx="565.5" cy="963" r="2.8"/><circle cx="572" cy="996" r="2.4"/><circle cx="560" cy="1008" r="2"/></g>
<g class="r" font-size="4.5" font-style="italic" fill="#dde4f0">
<text x="576" y="967">Element</text><text x="604" y="967">Wt%</text><text x="626" y="967">At%</text>
<text x="576" y="975">O K</text><text x="604" y="975">46.32</text><text x="626" y="975">56.64</text>
<text x="576" y="983">F K</text><text x="604" y="983">5.55</text><text x="626" y="983">5.74</text>
<text x="576" y="991">Na K</text><text x="604" y="991">0.63</text><text x="626" y="991">0.52</text>
<text x="576" y="999">Mg K</text><text x="604" y="999">33.44</text><text x="626" y="999">27.03</text>
<text x="576" y="1007">Al K</text><text x="604" y="1007">2.22</text><text x="626" y="1007">1.60</text>
<text x="576" y="1015">Si K</text><text x="604" y="1015">11.94</text><text x="626" y="1015">8.09</text>
</g>

<!-- ============ (n) ============ -->
<rect x="656" y="957" width="199" height="174" fill="#808080"/>
<path d="M656,1010 L726,1006 L735,1000 L745,1004 L755,993 L765,1002 L775,998 L785,1004 L795,995 L805,1003 L812,990 L822,1002 L830,985 L838,1004 L845,996 L855,1000 V1060 L835,1064 L815,1059 L795,1066 L775,1061 L755,1066 L735,1060 L715,1065 L695,1060 L675,1064 L656,1061 Z" fill="url(#pC)"/>
<path d="M656,957 H855 V1000 L845,996 L838,1004 L830,985 L822,1002 L812,990 L805,1003 L795,995 L785,1004 L775,998 L765,1002 L755,993 L745,1004 L735,1000 L726,1006 L656,1010 Z" fill="#0c0c0c"/>
<rect x="656" y="957" width="199" height="174" filter="url(#nF)" opacity="0.2"/>
<ellipse cx="678.8" cy="1059" rx="5" ry="2.5" fill="none" stroke="#e0d040" stroke-width="1.2"/>
<text x="713.5" y="1077" class="r" font-size="9" fill="#eee" text-anchor="middle">inner layer</text>
<rect x="656" y="957" width="67.7" height="42" fill="#fff"/>

<!-- ============ (o) ============ -->
<rect x="860" y="957" width="195" height="174" fill="#7b7b7b"/>
<path d="M860,999 H927 V992 L945,987 L960,990 L975,985 L985,988 L995,980 L1005,990 L1015,982 L1025,990 L1035,975 L1045,990 L1055,985 V1045 L1035,1048 L1010,1043 L990,1047 L970,1043 L950,1040 L930,1035 L910,1030 L890,1028 L875,1030 L860,1028 Z" fill="url(#pC)"/>
<path d="M927,957 H1055 V985 L1045,990 L1035,975 L1025,990 L1015,982 L1005,990 L995,980 L985,988 L975,985 L960,990 L945,987 L927,992 Z" fill="#0c0c0c"/>
<path d="M1000,975 Q1015,960 1030,968 Q1035,985 1015,990 Z" fill="#6a6a6a"/>
<path d="M875,1131 L885,1080 L905,1050 L930,1035 L975,1028 L1000,1032 L1030,1060 L1050,1075 L1020,1078 L990,1075 L960,1080 L940,1095 L930,1131 Z" fill="#bfbfbf"/>
<path d="M935,1131 Q940,1095 965,1085 Q995,1080 1005,1110 L1010,1131 Z" fill="#575757"/>
<rect x="935" y="1083" width="75" height="48" filter="url(#nL)" opacity="0.6"/>
<rect x="860" y="957" width="195" height="174" filter="url(#nF)" opacity="0.18"/>
<ellipse cx="866" cy="1030" rx="5" ry="2.5" fill="none" stroke="#e0d040" stroke-width="1.2"/>
<text x="913.5" y="1040" class="r" font-size="9" fill="#eee" text-anchor="middle">inner layer</text>
<text x="972" y="1085" class="r" font-size="8.5" fill="#eee">β-Mg<tspan font-size="6" dy="2">17</tspan><tspan dy="-2">Al</tspan><tspan font-size="6" dy="2">12</tspan></text>
<rect x="860" y="957" width="67.7" height="42" fill="#fff"/>

<!-- ============ (p) ============ -->
<rect x="452" y="1136" width="199" height="171" fill="url(#pP)" filter="url(#bl)"/>
<rect x="452" y="1136" width="199" height="171" filter="url(#nD)" opacity="0.4"/>
<rect x="452" y="1136" width="199" height="171" filter="url(#nL)" opacity="0.55"/>
<rect x="452" y="1136" width="67.6" height="42" fill="#fff"/>
<rect x="549" y="1137.5" width="99" height="78.5" fill="#1d3c78"/>
<path d="M553 1208H645" stroke="#ccd" stroke-width="0.5"/>
<path d="M553,1208 L556,1208 L556.5,1160 L557,1208 L558.5,1208 L559,1200 L559.5,1208 L565,1208 L565.5,1145 L566,1208 L569.5,1208 L570,1200 L570.5,1208 L572,1208 L572.5,1178 L573,1208" stroke="#e8e050" stroke-width="1.2" fill="none"/>
<g fill="#b8c4d8"><circle cx="556.5" cy="1158" r="2.6"/><circle cx="565.5" cy="1143" r="2.8"/><circle cx="572.5" cy="1176" r="2.4"/><circle cx="559" cy="1198" r="2"/></g>
<g class="r" font-size="4.5" font-style="italic" fill="#dde4f0">
<text x="577" y="1147">Element</text><text x="605" y="1147">Wt%</text><text x="627" y="1147">At%</text>
<text x="577" y="1155">O K</text><text x="605" y="1155">44.24</text><text x="627" y="1155">54.77</text>
<text x="577" y="1163">F K</text><text x="605" y="1163">5.72</text><text x="627" y="1163">5.97</text>
<text x="577" y="1171">Mg K</text><text x="605" y="1171">35.59</text><text x="627" y="1171">29.06</text>
<text x="577" y="1179">Al K</text><text x="605" y="1179">2.50</text><text x="627" y="1179">1.84</text>
<text x="577" y="1187">Si K</text><text x="605" y="1187">11.95</text><text x="627" y="1187">8.42</text>
</g>

<!-- ============ (q) ============ -->
<rect x="656" y="1136" width="199" height="171" fill="#8b8b8b"/>
<path d="M656,1178 H723.7 V1166 L735,1168 L745,1162 L760,1167 L775,1163 L790,1168 L800,1162 L815,1166 L825,1158 L835,1168 L845,1160 L855,1165 V1230 L840,1236 L820,1232 L800,1238 L780,1234 L760,1240 L740,1236 L720,1230 L700,1225 L680,1222 L656,1220 Z" fill="url(#pC)"/>
<path d="M723.7,1136 H855 V1165 L845,1160 L835,1168 L825,1158 L815,1166 L800,1162 L790,1168 L775,1163 L760,1167 L745,1162 L735,1168 L723.7,1166 Z" fill="#0c0c0c"/>
<rect x="656" y="1136" width="199" height="171" filter="url(#nF)" opacity="0.18"/>
<ellipse cx="721.6" cy="1234.6" rx="5" ry="2.5" fill="none" stroke="#e0d040" stroke-width="1.2"/>
<text x="760.4" y="1248" class="r" font-size="9" fill="#eee" text-anchor="middle">inner layer</text>
<rect x="656" y="1136" width="67.7" height="42" fill="#fff"/>

<!-- ============ (r) ============ -->
<rect x="860" y="1136" width="195" height="171" fill="#b8b8b8"/>
<path d="M860,1178 H927.7 V1160 L945,1157 L960,1162 L975,1155 L990,1160 L1005,1152 L1020,1160 L1035,1150 L1045,1158 L1055,1150 V1215 L1040,1220 L1020,1214 L1000,1218 L980,1216 L960,1220 L940,1222 L920,1225 L900,1222 L880,1226 L860,1224 Z" fill="url(#pC)"/>
<path d="M927.7,1136 H1055 V1150 L1045,1158 L1035,1150 L1020,1160 L1005,1152 L990,1160 L975,1155 L960,1162 L945,1157 L927.7,1160 Z" fill="#0c0c0c"/>
<path d="M860,1228 L905,1226 L912,1240 L912,1307 L860,1307 Z" fill="#4f4f4f"/>
<rect x="860" y="1228" width="52" height="79" filter="url(#nL)" opacity="0.6"/>
<rect x="913" y="1232" width="14" height="45" fill="#d8d8d8" stroke="#333" stroke-width="1.2"/>
<circle cx="985" cy="1260" r="2.5" fill="#444"/><circle cx="995" cy="1268" r="2" fill="#444"/>
<rect x="860" y="1136" width="195" height="171" filter="url(#nF)" opacity="0.16"/>
<ellipse cx="940" cy="1225" rx="5" ry="2.5" fill="none" stroke="#e0d040" stroke-width="1.2"/>
<text x="958.4" y="1242.5" class="r" font-size="9" fill="#eee" text-anchor="middle">inner layer</text>
<rect x="860" y="1136" width="67.7" height="42" fill="#fff"/>

<!-- scale bars -->
<g>
<rect x="581.6" y="932" width="69.4" height="20" fill="#fff"/><rect x="786" y="932" width="69" height="20" fill="#fff"/><rect x="989" y="932" width="66" height="20" fill="#fff"/>
<rect x="581.6" y="1111" width="69.4" height="20" fill="#fff"/><rect x="786" y="1111" width="69" height="20" fill="#fff"/><rect x="989" y="1111" width="66" height="20" fill="#fff"/>
<rect x="581.6" y="1287" width="69.4" height="20" fill="#fff"/><rect x="786" y="1287" width="69" height="20" fill="#fff"/><rect x="989" y="1287" width="66" height="20" fill="#fff"/>
<path d="M585 934.5H648M789 934.5H852M992 934.5H1052M585 1113.5H648M789 1113.5H852M992 1113.5H1052M585 1289.5H648M789 1289.5H852M992 1289.5H1052" stroke="#000" stroke-width="2"/>
<g class="r" font-size="13" fill="#111" text-anchor="middle">
<text x="616.3" y="948">20 μm</text><text x="820.5" y="948">20 μm</text><text x="1022" y="948">20 μm</text>
<text x="616.3" y="1127">20 μm</text><text x="820.5" y="1127">20 μm</text><text x="1022" y="1127">20 μm</text>
<text x="616.3" y="1303">20 μm</text><text x="820.5" y="1303">20 μm</text><text x="1022" y="1303">20 μm</text>
</g>
</g>

<g class="r" font-size="21" font-weight="bold" fill="#111" text-anchor="middle">
<text x="485" y="809">(j)</text><text x="689" y="809">(k)</text><text x="893" y="809">(l)</text>
<text x="488" y="986">(m)</text><text x="689" y="986">(n)</text><text x="893" y="986">(o)</text>
<text x="486" y="1163">(p)</text><text x="689" y="1163">(q)</text><text x="893" y="1163">(r)</text>
</g>

<!-- watermark -->
<g opacity="0.88">
<ellipse cx="682" cy="1270" rx="13" ry="11" fill="#e6e6e6" stroke="#8a8a8a" stroke-width="0.8"/>
<ellipse cx="697" cy="1281" rx="11" ry="9.5" fill="#e6e6e6" stroke="#8a8a8a" stroke-width="0.8"/>
<circle cx="677" cy="1267" r="1.5" fill="#888"/><circle cx="687" cy="1267" r="1.5" fill="#888"/><circle cx="693" cy="1279" r="1.3" fill="#888"/><circle cx="701" cy="1279" r="1.3" fill="#888"/>
<g font-family="'Liberation Sans','Noto Sans CJK SC',sans-serif" font-size="30" fill="#e8e8e8" stroke="#7a7a7a" stroke-width="0.6">
<text x="714" y="1288">公众号</text>
<text x="815" y="1288">·</text>
<text x="838" y="1288" textLength="210">材料科学与工程</text>
</g>
</g>
</svg>
</body></html>
